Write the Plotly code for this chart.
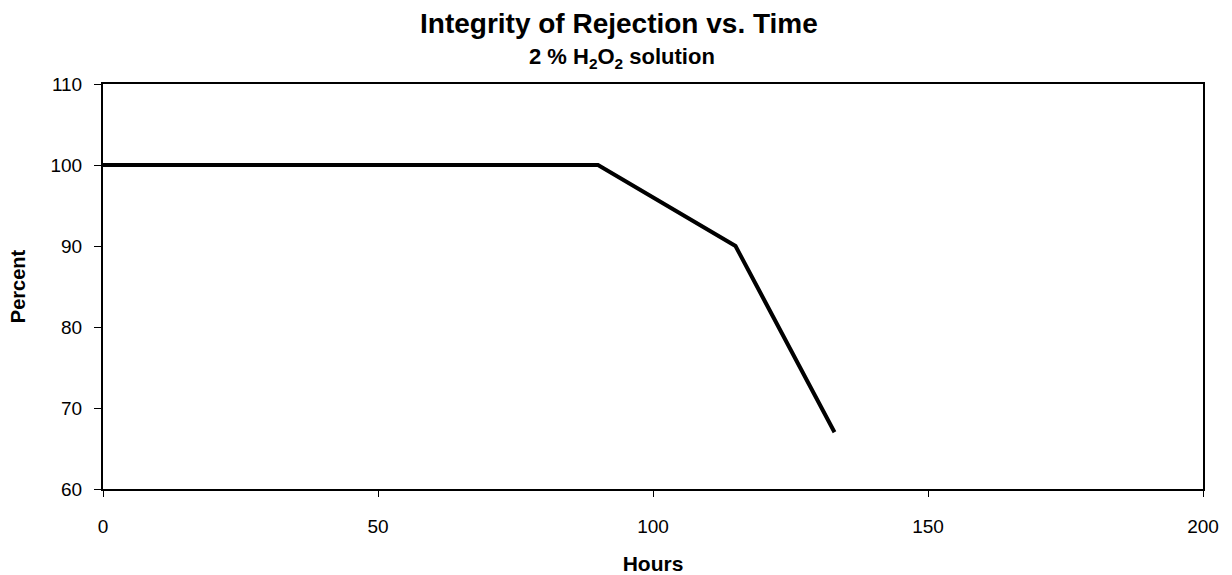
import plotly.graph_objects as go

hours = [0, 90, 115, 133]
percent = [100, 100, 90, 67]
x_ticks = [0, 50, 100, 150, 200]
y_ticks = [60, 70, 80, 90, 100, 110]

fig = go.Figure()
fig.add_trace(go.Scatter(x=hours, y=percent, mode="lines",
                         line=dict(color="black", width=4), showlegend=False))

font = "Liberation Sans, Arial, sans-serif"
fig.update_layout(
    width=1232, height=575,
    margin=dict(l=103, r=29, t=84, b=86),
    paper_bgcolor="white", plot_bgcolor="white",
    font=dict(family=font, color="black", size=19),
)
fig.add_annotation(text="<b>Integrity of Rejection vs. Time</b>", xref="paper", yref="paper",
                   x=0.469, y=1.0, yanchor="middle", yshift=61, showarrow=False,
                   font=dict(size=28, family=font))
fig.add_annotation(text="<b>2 % H<sub>2</sub>O<sub>2</sub> solution</b>", xref="paper", yref="paper",
                   x=0.472, y=1.0, yanchor="middle", yshift=26, showarrow=False,
                   font=dict(size=22, family=font))

fig.update_xaxes(range=[0, 200], tickvals=x_ticks, showgrid=False, zeroline=False,
                 automargin=False,
                 showline=True, linecolor="black", linewidth=2, mirror=True,
                 ticks="outside", ticklen=6, tickwidth=1, tickcolor="black",
                 ticklabelstandoff=13,
                 title=dict(text="<b>Hours</b>", font=dict(size=21), standoff=25),
                 tickfont=dict(size=19))
fig.update_yaxes(range=[60, 110], tickvals=y_ticks, showgrid=False, zeroline=False,
                 automargin=False,
                 showline=True, linecolor="black", linewidth=2, mirror=True,
                 ticks="outside", ticklen=7, tickwidth=1, tickcolor="black",
                 ticklabelstandoff=8,
                 title=dict(text="<b>Percent</b>", font=dict(size=20), standoff=19),
                 tickfont=dict(size=19))

fig.write_html("out.html", config={"displayModeBar": False},
               post_script="document.body.style.margin='0';document.body.style.padding='0';")
